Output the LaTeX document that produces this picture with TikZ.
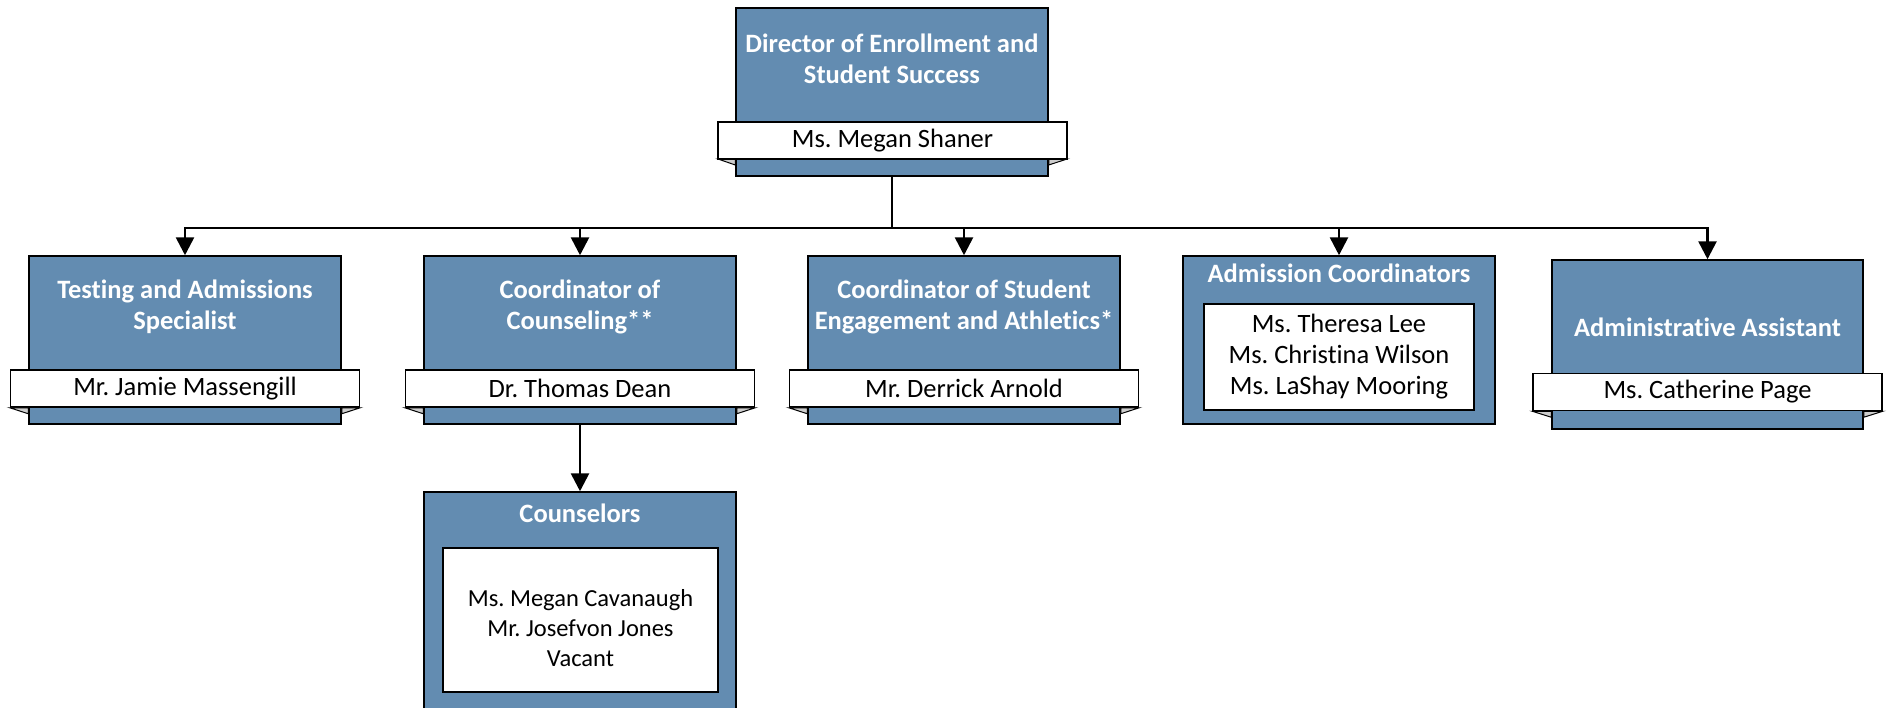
\documentclass[tikz,border=0pt]{standalone}
\usepackage{fontspec}
\setmainfont{Carlito}[Ligatures=NoCommon]
\usepackage{tikz}
\usetikzlibrary{positioning,calc}
\usetikzlibrary{arrows.meta}
\definecolor{PostBlue}{RGB}{99,140,177}
\definecolor{FoldGray}{RGB}{205,205,205}
\frenchspacing
\tikzset{
	post/.style={draw=black,fill=PostBlue,line width=1.5pt,inner sep=0pt,
		minimum width=312pt,minimum height=168pt},
	title/.style={text=white,font=\bfseries\fontsize{26.5}{31}\selectfont,align=center},
	nametab/.style={draw=black,fill=white,line width=1.5pt,inner sep=0pt,
		minimum width=349pt,minimum height=37pt,font=\fontsize{26.5}{31}\selectfont},
	namelist/.style={draw=black,fill=white,line width=1.5pt,inner sep=0pt,
		font=\fontsize{26.5}{31}\selectfont,align=center},
	fold/.style={draw=black,fill=FoldGray,line width=1pt},
	link/.style={draw=black,line width=2.7pt,-{Triangle[width=18pt,length=18pt]}},
}

\begin{document}
\begin{tikzpicture}[x=1pt,y=-1pt]
					\useasboundingbox (0,0) rectangle (1889,707);
					% director
					\node[post] (dir) at (892,92) {};
					\filldraw[fold] (718,159) -- (dir.west |- 0,159) -- ++(0,6) -- cycle;
					\filldraw[fold] (1067,159) -- (dir.east |- 0,159) -- ++(0,6) -- cycle;
					\node[nametab] (dirN) at (892.5,140.5) {Ms. Megan Shaner};
					\node[title] (dirT) at (892,59) {Director of Enrollment and\\Student Success};
					% testing
					\node[post] (tas) at (185,340) {};
					\node[nametab] (tasN) at (185,388.5) {Mr. Jamie Massengill};
					\filldraw[fold] (tasN.south west) -- (tas.west |- tasN.south) -- ++(0,6) -- cycle;
					\filldraw[fold] (tasN.south east) -- (tas.east |- tasN.south) -- ++(0,6) -- cycle;
					\node[title] (tasT) at (185,307) {Testing and Admissions\\Specialist};
					% counseling
					\node[post] (coc) at (580,340) {};
					\node[nametab] (cocN) at (580,388.5) {Dr. Thomas Dean};
					\filldraw[fold] (cocN.south west) -- (coc.west |- cocN.south) -- ++(0,6) -- cycle;
					\filldraw[fold] (cocN.south east) -- (coc.east |- cocN.south) -- ++(0,6) -- cycle;
					\node[title] (cocT) at (580,307) {Coordinator of\\Counseling**};
					% engagement
					\node[post] (cse) at (964,340) {};
					\node[nametab] (cseN) at (964,388.5) {Mr. Derrick Arnold};
					\filldraw[fold] (cseN.south west) -- (cse.west |- cseN.south) -- ++(0,6) -- cycle;
					\filldraw[fold] (cseN.south east) -- (cse.east |- cseN.south) -- ++(0,6) -- cycle;
					\node[title] (cseT) at (964,307) {Coordinator of Student\\Engagement and Athletics*};
					% admission coordinators
					\node[post] (adc) at (1339,340) {};
					\node[title] (adcT) at (1339,273) {Admission Coordinators};
					\node[namelist,minimum width=270pt,minimum height=106pt] (adcN) at (1339,357)
						{Ms. Theresa Lee\\Ms. Christina Wilson\\Ms. LaShay Mooring};
					% assistant
					\node[post,minimum width=311pt,minimum height=169pt] (asst) at (1707.5,344.5) {};
					\node[nametab] (asstN) at (1707.5,392) {Ms. Catherine Page};
					\filldraw[fold] (asstN.south west) -- (asst.west |- asstN.south) -- ++(0,6) -- cycle;
					\filldraw[fold] (asstN.south east) -- (asst.east |- asstN.south) -- ++(0,6) -- cycle;
					\node[title] (asstT) at (1707.5,327) {Administrative Assistant};
					% counselors
					\node[post,minimum height=230pt] (csl) at (580,607) {};
					\node[title] (cslT) at (580,513) {Counselors};
					\node[namelist,minimum width=275pt,minimum height=144pt] (cslN) at (580.5,620) {};
					\node[font=\fontsize{24.5}{30}\selectfont,align=center] (cslL) at (580.5,628)
						{Ms. Megan Cavanaugh\\Mr. Josefvon Jones\\Vacant};
					% links
					\coordinate (bus) at (892,228);
					\draw[link] (dir.south) -- (bus) -| (tas.north);
					\draw[link] (dir.south) -- (bus) -| (coc.north);
					\draw[link] (dir.south) -- (bus) -| (cse.north);
					\draw[link] (dir.south) -- (bus) -| (adc.north);
					\draw[link] (dir.south) -- (bus) -| (asst.north);
					\draw[link] (coc.south) -- (csl.north);
				\end{tikzpicture}
\end{document}
